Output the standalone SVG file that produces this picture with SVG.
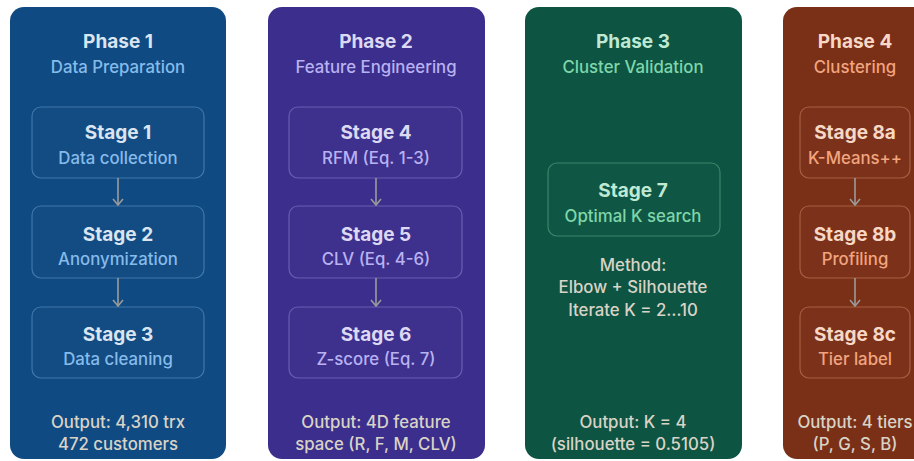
<svg xmlns="http://www.w3.org/2000/svg" width="914" height="461" viewBox="0 0 914 461">
<style>
text{font-family:Inter,"Noto Sans","Liberation Sans",sans-serif;text-anchor:middle}
.h{font-size:19px;font-weight:700}
.s{font-size:16.8px;font-weight:500}
.o{font-size:16.8px;font-weight:500;fill:#d9d3c6}
.box{fill:#ffffff;fill-opacity:0.015;stroke-opacity:0.4;stroke-width:1.2}
.p1 .t{fill:#dbe5f0}.p1 .u{fill:#86bbea}.p1 .box{stroke:#8ab8e6}
.p2 .t{fill:#ddd9f3}.p2 .u{fill:#b9b2f2}.p2 .box{stroke:#aaa3ea}
.p3 .t{fill:#bfe9d2}.p3 .u{fill:#7fd6aa}.p3 .box{stroke:#82cfa6}
.p4 .t{fill:#f7d8c6}.p4 .u{fill:#f2a47f}.p4 .box{stroke:#e9a584}
.con line{stroke:#9b9b9b;stroke-width:1.6}
</style>
<defs>
<marker id="ah" viewBox="0 0 10 12" refX="9" refY="6" markerWidth="10" markerHeight="12" markerUnits="userSpaceOnUse" orient="auto">
<path d="M3 1 L9 6 L3 11" fill="none" stroke="#9b9b9b" stroke-width="1.6"/>
</marker>
</defs>
<rect width="914" height="461" fill="#ffffff"/>

<g id="phase1" class="p1">
<rect x="10" y="7" width="216" height="452" rx="14" fill="#0f4a82"/>
<text class="h t" x="118" y="48">Phase 1</text>
<text class="s u" x="118" y="73">Data Preparation</text>
</g>
<g id="stage1" class="p1">
<rect class="box" x="32" y="107" width="172" height="71" rx="9"/>
<text class="h t" x="118" y="139">Stage 1</text>
<text class="s u" x="118" y="164">Data collection</text>
</g>
<g id="stage2" class="p1">
<rect class="box" x="32" y="206" width="172" height="72" rx="9"/>
<text class="h t" x="118" y="241">Stage 2</text>
<text class="s u" x="118" y="265">Anonymization</text>
</g>
<g id="stage3" class="p1">
<rect class="box" x="32" y="307" width="172" height="71" rx="9"/>
<text class="h t" x="118" y="341">Stage 3</text>
<text class="s u" x="118" y="365">Data cleaning</text>
</g>
<g id="output1">
<text class="o" x="118" y="428">Output: 4,310 trx</text>
<text class="o" x="118" y="450">472 customers</text>
</g>

<g id="phase2" class="p2">
<rect x="268" y="7" width="217" height="452" rx="14" fill="#3b2e8c"/>
<text class="h t" x="376" y="48">Phase 2</text>
<text class="s u" x="376" y="73">Feature Engineering</text>
</g>
<g id="stage4" class="p2">
<rect class="box" x="289" y="107" width="173" height="71" rx="9"/>
<text class="h t" x="376" y="139">Stage 4</text>
<text class="s u" x="376" y="164">RFM (Eq. 1-3)</text>
</g>
<g id="stage5" class="p2">
<rect class="box" x="289" y="206" width="173" height="72" rx="9"/>
<text class="h t" x="376" y="241">Stage 5</text>
<text class="s u" x="376" y="265">CLV (Eq. 4-6)</text>
</g>
<g id="stage6" class="p2">
<rect class="box" x="289" y="307" width="173" height="71" rx="9"/>
<text class="h t" x="376" y="341">Stage 6</text>
<text class="s u" x="376" y="365">Z-score (Eq. 7)</text>
</g>
<g id="output2">
<text class="o" x="376" y="428">Output: 4D feature</text>
<text class="o" x="376" y="450">space (R, F, M, CLV)</text>
</g>

<g id="phase3" class="p3">
<rect x="525" y="7" width="217" height="452" rx="14" fill="#0d5442"/>
<text class="h t" x="633" y="48">Phase 3</text>
<text class="s u" x="633" y="73">Cluster Validation</text>
</g>
<g id="stage7" class="p3">
<rect class="box" x="548" y="163" width="172" height="73" rx="9"/>
<text class="h t" x="633" y="197">Stage 7</text>
<text class="s u" x="633" y="222">Optimal K search</text>
</g>
<g id="method3">
<text class="o" x="633" y="271">Method:</text>
<text class="o" x="633" y="293">Elbow + Silhouette</text>
<text class="o" x="633" y="316">Iterate K = 2…10</text>
</g>
<g id="output3">
<text class="o" x="633" y="428">Output: K = 4</text>
<text class="o" x="633" y="450">(silhouette = 0.5105)</text>
</g>

<g id="phase4" class="p4">
<rect x="783" y="7" width="160" height="452" rx="14" fill="#7a2f17"/>
<text class="h t" x="855" y="48">Phase 4</text>
<text class="s u" x="855" y="73">Clustering</text>
</g>
<g id="stage8a" class="p4">
<rect class="box" x="800" y="107" width="110" height="71" rx="9"/>
<text class="h t" x="855" y="139">Stage 8a</text>
<text class="s u" x="855" y="164">K-Means++</text>
</g>
<g id="stage8b" class="p4">
<rect class="box" x="800" y="206" width="110" height="72" rx="9"/>
<text class="h t" x="855" y="241">Stage 8b</text>
<text class="s u" x="855" y="265">Profiling</text>
</g>
<g id="stage8c" class="p4">
<rect class="box" x="800" y="307" width="110" height="71" rx="9"/>
<text class="h t" x="855" y="341">Stage 8c</text>
<text class="s u" x="855" y="365">Tier label</text>
</g>
<g id="output4">
<text class="o" x="855" y="428">Output: 4 tiers</text>
<text class="o" x="855" y="450">(P, G, S, B)</text>
</g>

<g id="connectors" class="con">
<line x1="118" y1="178" x2="118" y2="205" marker-end="url(#ah)"/>
<line x1="118" y1="278" x2="118" y2="306" marker-end="url(#ah)"/>
<line x1="376" y1="178" x2="376" y2="205" marker-end="url(#ah)"/>
<line x1="376" y1="278" x2="376" y2="306" marker-end="url(#ah)"/>
<line x1="855" y1="178" x2="855" y2="205" marker-end="url(#ah)"/>
<line x1="855" y1="278" x2="855" y2="306" marker-end="url(#ah)"/>
</g>
</svg>
